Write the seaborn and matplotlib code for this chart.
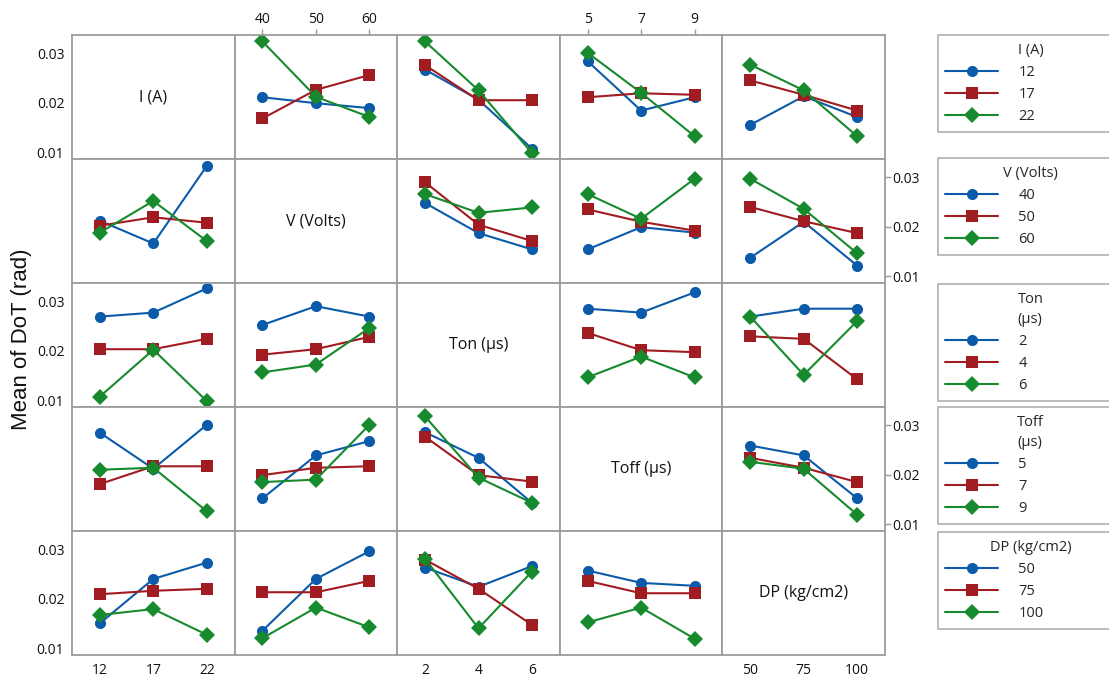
import matplotlib
matplotlib.use("Agg")
import matplotlib.pyplot as plt
import seaborn as sns
import pandas as pd

# ---------------- data ----------------
factors = ["I (A)", "V (Volts)", "Ton (µs)", "Toff (µs)", "DP (kg/cm2)"]
legend_titles = ["I (A)", "V (Volts)", "Ton\n(µs)", "Toff\n(µs)", "DP (kg/cm2)"]
I_levels = [12, 17, 22]
V_levels = [40, 50, 60]
Ton_levels = [2, 4, 6]
Toff_levels = [5, 7, 9]
DP_levels = [50, 75, 100]
levels = [I_levels, V_levels, Ton_levels, Toff_levels, DP_levels]
y_ticks = [0.01, 0.02, 0.03]

# mean DoT: rows = trace-factor levels, cols = x-factor levels
I_by_V = [[0.0211, 0.0199, 0.0189], [0.0168, 0.0226, 0.0256], [0.0324, 0.0212, 0.0171]]
I_by_Ton = [[0.0267, 0.0206, 0.0107], [0.0276, 0.0205, 0.0205], [0.0324, 0.0225, 0.0098]]
I_by_Toff = [[0.0284, 0.0184, 0.0211], [0.0211, 0.0219, 0.0216], [0.0301, 0.0220, 0.0132]]
I_by_DP = [[0.0155, 0.0213, 0.0171], [0.0245, 0.0216, 0.0184], [0.0277, 0.0225, 0.0132]]

V_by_I = [[0.0212, 0.0166, 0.0323], [0.0202, 0.0219, 0.0208], [0.0188, 0.0252, 0.0171]]
V_by_Ton = [[0.0248, 0.0187, 0.0154], [0.0290, 0.0204, 0.0171], [0.0266, 0.0228, 0.0239]]
V_by_Toff = [[0.0154, 0.0199, 0.0188], [0.0235, 0.0210, 0.0192], [0.0266, 0.0216, 0.0297]]
V_by_DP = [[0.0137, 0.0210, 0.0121], [0.0240, 0.0211, 0.0187], [0.0297, 0.0236, 0.0146]]

Ton_by_I = [[0.0269, 0.0277, 0.0326], [0.0203, 0.0203, 0.0224], [0.0107, 0.0202, 0.0098]]
Ton_by_V = [[0.0252, 0.0290, 0.0269], [0.0192, 0.0203, 0.0228], [0.0156, 0.0172, 0.0246]]
Ton_by_Toff = [[0.0285, 0.0277, 0.0318], [0.0236, 0.0201, 0.0197], [0.0146, 0.0188, 0.0146]]
Ton_by_DP = [[0.0269, 0.0285, 0.0285], [0.0229, 0.0224, 0.0142], [0.0269, 0.0151, 0.0260]]

Toff_by_I = [[0.0285, 0.0212, 0.0301], [0.0181, 0.0217, 0.0217], [0.0210, 0.0214, 0.0126]]
Toff_by_V = [[0.0152, 0.0239, 0.0268], [0.0199, 0.0214, 0.0217], [0.0185, 0.0190, 0.0301]]
Toff_by_Ton = [[0.0286, 0.0234, 0.0143], [0.0277, 0.0199, 0.0186], [0.0318, 0.0194, 0.0143]]
Toff_by_DP = [[0.0259, 0.0239, 0.0152], [0.0234, 0.0214, 0.0185], [0.0226, 0.0212, 0.0119]]

DP_by_I = [[0.0150, 0.0240, 0.0273], [0.0209, 0.0216, 0.0220], [0.0167, 0.0179, 0.0127]]
DP_by_V = [[0.0135, 0.0240, 0.0296], [0.0213, 0.0213, 0.0236], [0.0120, 0.0182, 0.0142]]
DP_by_Ton = [[0.0263, 0.0224, 0.0266], [0.0279, 0.0220, 0.0147], [0.0281, 0.0140, 0.0255]]
DP_by_Toff = [[0.0257, 0.0232, 0.0226], [0.0236, 0.0211, 0.0211], [0.0152, 0.0182, 0.0119]]

panels = {
    (0, 1): I_by_V, (0, 2): I_by_Ton, (0, 3): I_by_Toff, (0, 4): I_by_DP,
    (1, 0): V_by_I, (1, 2): V_by_Ton, (1, 3): V_by_Toff, (1, 4): V_by_DP,
    (2, 0): Ton_by_I, (2, 1): Ton_by_V, (2, 3): Ton_by_Toff, (2, 4): Ton_by_DP,
    (3, 0): Toff_by_I, (3, 1): Toff_by_V, (3, 2): Toff_by_Ton, (3, 4): Toff_by_DP,
    (4, 0): DP_by_I, (4, 1): DP_by_V, (4, 2): DP_by_Ton, (4, 3): DP_by_Toff,
}

# ---------------- style ----------------
sns.set_style("white")
plt.rcParams["font.family"] = ["Open Sans", "DejaVu Sans"]
colors = ["#0B5BAA", "#A11C20", "#168A2C"]
markers = ["o", "s", "D"]
grid_col = "#9c9c9c"

W, H = 1109, 679
fig = plt.figure(figsize=(W / 100, H / 100), dpi=100)
gs = fig.add_gridspec(5, 5, left=72 / W, right=885 / W, top=1 - 35 / H,
                      bottom=1 - 655 / H, wspace=0, hspace=0)

ylim = (0.0086, 0.0337)
handles_per_row = {}

for r in range(5):
    for c in range(5):
        ax = fig.add_subplot(gs[r, c])
        lv = levels[c]
        step = lv[1] - lv[0]
        ax.set_xlim(lv[0] - 0.52 * step, lv[2] + 0.52 * step)
        ax.set_ylim(*ylim)
        for s in ax.spines.values():
            s.set_color(grid_col)
            s.set_linewidth(1.3)
        ax.set_xticks([])
        ax.set_yticks([])
        if r == c:
            ax.text(0.5, 0.5, factors[r], transform=ax.transAxes, ha="center",
                    va="center", fontsize=11.5, color="#111111")
        else:
            vals = panels[(r, c)]
            rows = []
            for ti, tl in enumerate(levels[r]):
                for xi, xl in enumerate(lv):
                    rows.append({"x": xl, "y": vals[ti][xi], "trace": str(tl)})
            df = pd.DataFrame(rows)
            sns.lineplot(data=df, x="x", y="y", hue="trace", style="trace",
                         hue_order=[str(t) for t in levels[r]],
                         style_order=[str(t) for t in levels[r]],
                         palette=colors, markers=markers, dashes=False,
                         markersize=8, markeredgewidth=0, linewidth=1.5,
                         errorbar=None, legend=False, ax=ax)
            ax.set_xticks([])
            ax.set_yticks([])
            if r not in handles_per_row:
                handles_per_row[r] = list(ax.lines[:3])
        ax.set_xlabel("")
        ax.set_ylabel("")
        tick_kw = dict(direction="out", length=4, width=1, color=grid_col,
                       labelsize=10, labelcolor="#111111", pad=1.5)
        # y ticks
        if c == 0 and r in (0, 2, 4):
            ax.set_yticks(y_ticks)
            ax.set_yticklabels([f"{t:.2f}" for t in y_ticks])
            ax.tick_params(axis="y", **tick_kw)
        if c == 4 and r in (1, 3):
            ax.set_yticks(y_ticks)
            ax.set_yticklabels([f"{t:.2f}" for t in y_ticks])
            ax.yaxis.tick_right()
            ax.tick_params(axis="y", **tick_kw)
        # x ticks
        if r == 0 and c in (1, 3):
            ax.set_xticks(lv)
            ax.set_xticklabels([str(v) for v in lv])
            ax.xaxis.tick_top()
            ax.tick_params(axis="x", **tick_kw)
        if r == 4 and c in (0, 2, 4):
            ax.set_xticks(lv)
            ax.set_xticklabels([str(v) for v in lv])
            ax.tick_params(axis="x", **tick_kw)

fig.text(22 / W, 0.5, "Mean of DoT (rad)", rotation=90, ha="center", va="center",
         fontsize=16, family=["Liberation Sans", "DejaVu Sans"], color="#111111")

# legends
legend_tops = [36, 159, 285, 408, 533]
for r in range(5):
    hs = handles_per_row[r]
    top = 1 - legend_tops[r] / H
    leg = fig.legend(hs, [str(v) for v in levels[r]], title=legend_titles[r],
                     loc="upper left", bbox_to_anchor=(938 / W, top, 185 / W, 0.001),
                     mode="expand", fontsize=10.5, title_fontsize=10.5,
                     frameon=True, fancybox=False, edgecolor=grid_col,
                     handlelength=3.6, handletextpad=1.4, labelspacing=0.5,
                     borderpad=0.5, borderaxespad=0)
    leg.get_frame().set_linewidth(1.2)
    leg.get_title().set_linespacing(1.45)

fig.savefig("out.png", dpi=100)
